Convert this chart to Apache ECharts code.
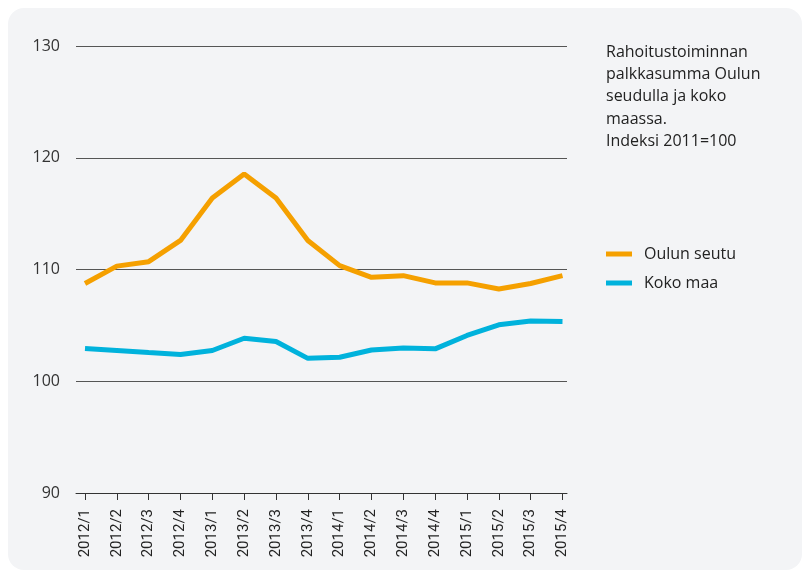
<!DOCTYPE html>
<html>
<head>
<meta charset="utf-8">
<script src="https://cdn.jsdelivr.net/npm/echarts@6/dist/echarts.min.js"></script>
<style>
html,body{margin:0;padding:0;background:#ffffff;}
#panel{position:absolute;left:8px;top:8px;width:794px;height:562px;background:#f3f4f6;border-radius:16px;}
#chart{position:absolute;left:0;top:0;width:806px;height:574px;}
</style>
</head>
<body>
<div id="panel"></div>
<div id="chart"></div>
<script>
var categories = ['2012/1','2012/2','2012/3','2012/4','2013/1','2013/2','2013/3','2013/4','2014/1','2014/2','2014/3','2014/4','2015/1','2015/2','2015/3','2015/4'];
var oulunSeutu = [108.75, 110.3, 110.7, 112.6, 116.4, 118.55, 116.4, 112.6, 110.35, 109.3, 109.45, 108.8, 108.8, 108.25, 108.75, 109.45];
var kokoMaa = [102.93, 102.75, 102.57, 102.4, 102.75, 103.85, 103.55, 102.05, 102.15, 102.8, 102.97, 102.9, 104.1, 105.05, 105.4, 105.35];
var yTicks = [90, 100, 110, 120, 130];
var seriesNames = ['Oulun seutu', 'Koko maa'];
var titleLines = ['Rahoitustoiminnan', 'palkkasumma Oulun', 'seudulla ja koko', 'maassa.', 'Indeksi 2011=100'];

var chart = echarts.init(document.getElementById('chart'), null, {renderer: 'canvas'});
var fontMain = '"Open Sans", Lato, sans-serif';
chart.setOption({
  backgroundColor: 'transparent',
  animation: false,
  title: {
    text: titleLines.join('\n'),
    left: 601,
    top: 36,
    textStyle: {fontFamily: fontMain, fontSize: 16, fontWeight: 'normal', color: '#222', lineHeight: 22.3}
  },
  legend: {
    orient: 'vertical',
    left: 601,
    top: 241,
    itemWidth: 26,
    itemHeight: 5,
    itemGap: 13,
    icon: 'rect',
    data: seriesNames,
    textStyle: {fontFamily: fontMain, fontSize: 16, color: '#222', padding: [0, 0, 0, 7]}
  },
  grid: [
    {left: 76, right: 239, top: 46, bottom: 81},
    {left: 85, right: 243.5, top: 46, bottom: 81}
  ],
  xAxis: [
    {gridIndex: 0, type: 'value', min: 0, max: 1, axisLine: {show: true, lineStyle: {color: '#333', width: 1}}, axisTick: {show: false}, axisLabel: {show: false}, splitLine: {show: false}},
    {gridIndex: 1, type: 'category', data: categories, boundaryGap: false,
     axisLine: {show: false},
     axisTick: {show: true, alignWithLabel: true, length: 7, lineStyle: {color: '#333'}},
     axisLabel: {rotate: 90, margin: 16, interval: 0, fontFamily: 'Roboto, sans-serif', fontSize: 15, color: '#222'}}
  ],
  yAxis: [
    {gridIndex: 0, type: 'value', min: yTicks[0], max: yTicks[yTicks.length - 1], interval: 10,
     axisLine: {show: false}, axisTick: {show: false},
     axisLabel: {margin: 16, fontFamily: fontMain, fontSize: 16, color: '#333'},
     splitLine: {show: true, lineStyle: {color: '#555', width: 1}}},
    {gridIndex: 1, type: 'value', min: yTicks[0], max: yTicks[yTicks.length - 1], interval: 10,
     show: false, splitLine: {show: false}}
  ],
  series: [
    {name: seriesNames[0], type: 'line', xAxisIndex: 1, yAxisIndex: 1, data: oulunSeutu, symbol: 'none', color: '#f5a000', lineStyle: {width: 5, color: '#f5a000'}},
    {name: seriesNames[1], type: 'line', xAxisIndex: 1, yAxisIndex: 1, data: kokoMaa, symbol: 'none', color: '#00b2dc', lineStyle: {width: 5, color: '#00b2dc'}}
  ]
});
</script>
</body>
</html>
